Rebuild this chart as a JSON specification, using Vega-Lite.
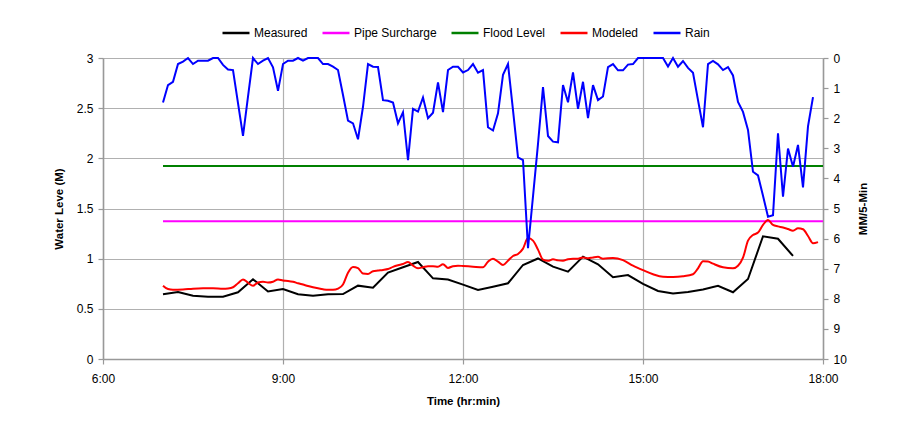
{
  "$schema": "https://vega.github.io/schema/vega-lite/v6.json",
  "width": 720,
  "height": 301,
  "autosize": {"type": "none"},
  "padding": {"left": 103, "top": 58, "right": 85, "bottom": 70},
  "background": "white",
  "encoding": {
    "x": {
      "field": "t",
      "type": "temporal",
      "scale": {
        "domain": [
          {"year": 1900, "month": 1, "date": 1, "hours": 6, "minutes": 0},
          {"year": 1900, "month": 1, "date": 1, "hours": 18, "minutes": 0}
        ],
        "nice": false
      },
      "axis": {
        "title": "Time (hr:min)",
        "format": "%-H:%M",
        "values": [
          {"year": 1900, "month": 1, "date": 1, "hours": 6},
          {"year": 1900, "month": 1, "date": 1, "hours": 9},
          {"year": 1900, "month": 1, "date": 1, "hours": 12},
          {"year": 1900, "month": 1, "date": 1, "hours": 15},
          {"year": 1900, "month": 1, "date": 1, "hours": 18}
        ],
        "grid": true,
        "labelPadding": 9,
        "titlePadding": 11,
        "labelFlush": false
      }
    }
  },
  "layer": [
    {
      "encoding": {
        "y": {
          "field": "v",
          "type": "quantitative",
          "scale": {"domain": [0, 3], "nice": false},
          "axis": {
            "title": "Water Leve (M)",
            "orient": "left",
            "values": [0, 0.5, 1, 1.5, 2, 2.5, 3],
            "format": "~g",
            "grid": true,
            "labelPadding": 5,
            "titlePadding": 12
          }
        }
      },
      "layer": [
        {
          "data": {
            "values": [
              {"t": "07:00", "v": 0.645}, {"t": "07:15", "v": 0.668}, {"t": "07:30", "v": 0.63}, {"t": "07:45", "v": 0.62},
              {"t": "08:00", "v": 0.62}, {"t": "08:15", "v": 0.665}, {"t": "08:30", "v": 0.795}, {"t": "08:45", "v": 0.673},
              {"t": "09:00", "v": 0.698}, {"t": "09:15", "v": 0.645}, {"t": "09:30", "v": 0.63}, {"t": "09:45", "v": 0.645},
              {"t": "10:00", "v": 0.647}, {"t": "10:15", "v": 0.731}, {"t": "10:30", "v": 0.71}, {"t": "10:45", "v": 0.862},
              {"t": "11:00", "v": 0.915}, {"t": "11:15", "v": 0.967}, {"t": "11:30", "v": 0.804}, {"t": "11:45", "v": 0.793},
              {"t": "12:00", "v": 0.741}, {"t": "12:15", "v": 0.688}, {"t": "12:30", "v": 0.72}, {"t": "12:45", "v": 0.755},
              {"t": "13:00", "v": 0.937}, {"t": "13:15", "v": 1.002}, {"t": "13:30", "v": 0.92}, {"t": "13:45", "v": 0.87},
              {"t": "14:00", "v": 1.02}, {"t": "14:15", "v": 0.944}, {"t": "14:30", "v": 0.815}, {"t": "14:45", "v": 0.836},
              {"t": "15:00", "v": 0.748}, {"t": "15:15", "v": 0.678}, {"t": "15:30", "v": 0.653}, {"t": "15:45", "v": 0.668},
              {"t": "16:00", "v": 0.692}, {"t": "16:15", "v": 0.73}, {"t": "16:30", "v": 0.665}, {"t": "16:45", "v": 0.797},
              {"t": "17:00", "v": 1.223}, {"t": "17:15", "v": 1.198}, {"t": "17:30", "v": 1.027}
            ],
            "format": {"parse": {"t": "date:'%H:%M'"}}
          },
          "mark": {"type": "line", "strokeWidth": 2},
          "encoding": {
            "color": {
              "datum": "Measured",
              "scale": {
                "domain": ["Measured", "Pipe Surcharge", "Flood Level", "Modeled", "Rain"],
                "range": ["#000000", "#ff00ff", "#008000", "#ff0000", "#0000ff"]
              },
              "legend": {
                "orient": "none",
                "legendX": 118,
                "legendY": -40,
                "direction": "horizontal",
                "title": null,
                "symbolType": "stroke",
                "symbolSize": 729,
                "symbolStrokeWidth": 2.5,
                "labelFontSize": 12,
                "labelFont": "Liberation Sans",
                "labelColor": "#000000",
                "labelOffset": 3,
                "columnPadding": 9,
                "padding": 0
              }
            }
          }
        },
        {
          "data": {
            "values": [{"t": "07:00", "v": 1.372}, {"t": "18:00", "v": 1.372}],
            "format": {"parse": {"t": "date:'%H:%M'"}}
          },
          "mark": {"type": "line", "strokeWidth": 2},
          "encoding": {"color": {"datum": "Pipe Surcharge"}}
        },
        {
          "data": {
            "values": [{"t": "07:00", "v": 1.924}, {"t": "18:00", "v": 1.924}],
            "format": {"parse": {"t": "date:'%H:%M'"}}
          },
          "mark": {"type": "line", "strokeWidth": 2},
          "encoding": {"color": {"datum": "Flood Level"}}
        },
        {
          "data": {
            "values": [
              {"t": "07:00", "v": 0.731}, {"t": "07:05", "v": 0.697}, {"t": "07:10", "v": 0.69}, {"t": "07:20", "v": 0.693},
              {"t": "07:30", "v": 0.7}, {"t": "07:40", "v": 0.704}, {"t": "07:50", "v": 0.705}, {"t": "08:00", "v": 0.7},
              {"t": "08:05", "v": 0.703}, {"t": "08:10", "v": 0.715}, {"t": "08:15", "v": 0.755}, {"t": "08:20", "v": 0.793},
              {"t": "08:25", "v": 0.76}, {"t": "08:30", "v": 0.73}, {"t": "08:35", "v": 0.762}, {"t": "08:40", "v": 0.77},
              {"t": "08:45", "v": 0.762}, {"t": "08:50", "v": 0.77}, {"t": "08:55", "v": 0.793}, {"t": "09:00", "v": 0.782},
              {"t": "09:05", "v": 0.778}, {"t": "09:10", "v": 0.77}, {"t": "09:15", "v": 0.755}, {"t": "09:20", "v": 0.742},
              {"t": "09:25", "v": 0.728}, {"t": "09:30", "v": 0.716}, {"t": "09:35", "v": 0.705}, {"t": "09:40", "v": 0.695},
              {"t": "09:45", "v": 0.689}, {"t": "09:50", "v": 0.69}, {"t": "09:55", "v": 0.702}, {"t": "10:00", "v": 0.742},
              {"t": "10:05", "v": 0.86}, {"t": "10:10", "v": 0.918}, {"t": "10:15", "v": 0.905}, {"t": "10:20", "v": 0.852},
              {"t": "10:25", "v": 0.848}, {"t": "10:30", "v": 0.875}, {"t": "10:35", "v": 0.882}, {"t": "10:40", "v": 0.888},
              {"t": "10:45", "v": 0.897}, {"t": "10:50", "v": 0.918}, {"t": "10:55", "v": 0.934}, {"t": "11:00", "v": 0.947},
              {"t": "11:05", "v": 0.966}, {"t": "11:10", "v": 0.93}, {"t": "11:15", "v": 0.905}, {"t": "11:20", "v": 0.915},
              {"t": "11:25", "v": 0.925}, {"t": "11:30", "v": 0.925}, {"t": "11:35", "v": 0.92}, {"t": "11:40", "v": 0.945},
              {"t": "11:45", "v": 0.908}, {"t": "11:50", "v": 0.925}, {"t": "11:55", "v": 0.93}, {"t": "12:00", "v": 0.927},
              {"t": "12:10", "v": 0.92}, {"t": "12:20", "v": 0.914}, {"t": "12:25", "v": 0.97}, {"t": "12:30", "v": 1.0},
              {"t": "12:35", "v": 0.97}, {"t": "12:40", "v": 0.937}, {"t": "12:45", "v": 0.98}, {"t": "12:50", "v": 1.027},
              {"t": "12:55", "v": 1.047}, {"t": "13:00", "v": 1.1}, {"t": "13:05", "v": 1.205}, {"t": "13:10", "v": 1.18},
              {"t": "13:15", "v": 1.09}, {"t": "13:20", "v": 0.99}, {"t": "13:25", "v": 0.978}, {"t": "13:30", "v": 0.994},
              {"t": "13:35", "v": 0.983}, {"t": "13:40", "v": 0.98}, {"t": "13:45", "v": 0.995}, {"t": "13:50", "v": 1.0},
              {"t": "13:55", "v": 1.0}, {"t": "14:00", "v": 1.012}, {"t": "14:05", "v": 1.004}, {"t": "14:10", "v": 1.012},
              {"t": "14:15", "v": 1.018}, {"t": "14:20", "v": 1.0}, {"t": "14:30", "v": 1.007}, {"t": "14:40", "v": 0.985},
              {"t": "14:50", "v": 0.93}, {"t": "15:00", "v": 0.885}, {"t": "15:10", "v": 0.845}, {"t": "15:20", "v": 0.82},
              {"t": "15:30", "v": 0.818}, {"t": "15:40", "v": 0.825}, {"t": "15:50", "v": 0.845}, {"t": "15:55", "v": 0.904},
              {"t": "16:00", "v": 0.975}, {"t": "16:05", "v": 0.972}, {"t": "16:10", "v": 0.95}, {"t": "16:20", "v": 0.914},
              {"t": "16:30", "v": 0.905}, {"t": "16:35", "v": 0.93}, {"t": "16:40", "v": 1.01}, {"t": "16:45", "v": 1.18},
              {"t": "16:50", "v": 1.236}, {"t": "16:55", "v": 1.26}, {"t": "17:00", "v": 1.336}, {"t": "17:05", "v": 1.386},
              {"t": "17:10", "v": 1.336}, {"t": "17:15", "v": 1.322}, {"t": "17:20", "v": 1.31}, {"t": "17:25", "v": 1.295},
              {"t": "17:30", "v": 1.279}, {"t": "17:35", "v": 1.303}, {"t": "17:40", "v": 1.293}, {"t": "17:45", "v": 1.226},
              {"t": "17:50", "v": 1.153}, {"t": "17:55", "v": 1.165}
            ],
            "format": {"parse": {"t": "date:'%H:%M'"}}
          },
          "mark": {"type": "line", "strokeWidth": 2, "interpolate": "monotone"},
          "encoding": {"color": {"datum": "Modeled"}}
        }
      ]
    },
    {
      "data": {
        "values": [
          {"t": "07:00", "v": 1.48}, {"t": "07:05", "v": 0.9}, {"t": "07:10", "v": 0.79}, {"t": "07:15", "v": 0.2},
          {"t": "07:20", "v": 0.12}, {"t": "07:25", "v": 0}, {"t": "07:30", "v": 0.2}, {"t": "07:35", "v": 0.09},
          {"t": "07:40", "v": 0.09}, {"t": "07:45", "v": 0.09}, {"t": "07:50", "v": 0}, {"t": "07:55", "v": 0},
          {"t": "08:00", "v": 0.23}, {"t": "08:05", "v": 0.38}, {"t": "08:10", "v": 0.4}, {"t": "08:15", "v": 1.5},
          {"t": "08:20", "v": 2.59}, {"t": "08:25", "v": 1.28}, {"t": "08:30", "v": 0}, {"t": "08:35", "v": 0.2},
          {"t": "08:40", "v": 0.09}, {"t": "08:45", "v": 0}, {"t": "08:50", "v": 0.31}, {"t": "08:55", "v": 1.09},
          {"t": "09:00", "v": 0.2}, {"t": "09:05", "v": 0.09}, {"t": "09:10", "v": 0.09}, {"t": "09:15", "v": 0},
          {"t": "09:20", "v": 0.09}, {"t": "09:25", "v": 0}, {"t": "09:30", "v": 0}, {"t": "09:35", "v": 0},
          {"t": "09:40", "v": 0.2}, {"t": "09:45", "v": 0.2}, {"t": "09:50", "v": 0.29}, {"t": "09:55", "v": 0.4},
          {"t": "10:00", "v": 1.23}, {"t": "10:05", "v": 2.08}, {"t": "10:10", "v": 2.17}, {"t": "10:15", "v": 2.7},
          {"t": "10:20", "v": 1.62}, {"t": "10:25", "v": 0.2}, {"t": "10:30", "v": 0.29}, {"t": "10:35", "v": 0.3},
          {"t": "10:40", "v": 1.4}, {"t": "10:45", "v": 1.42}, {"t": "10:50", "v": 1.48}, {"t": "10:55", "v": 2.17},
          {"t": "11:00", "v": 1.8}, {"t": "11:05", "v": 3.39}, {"t": "11:10", "v": 1.69}, {"t": "11:15", "v": 1.78},
          {"t": "11:20", "v": 1.31}, {"t": "11:25", "v": 2.0}, {"t": "11:30", "v": 1.82}, {"t": "11:35", "v": 0.81},
          {"t": "11:40", "v": 1.8}, {"t": "11:45", "v": 0.4}, {"t": "11:50", "v": 0.29}, {"t": "11:55", "v": 0.29},
          {"t": "12:00", "v": 0.48}, {"t": "12:05", "v": 0.4}, {"t": "12:10", "v": 0.2}, {"t": "12:15", "v": 0.49},
          {"t": "12:20", "v": 0.4}, {"t": "12:25", "v": 2.3}, {"t": "12:30", "v": 2.41}, {"t": "12:35", "v": 1.84},
          {"t": "12:40", "v": 0.56}, {"t": "12:45", "v": 0.2}, {"t": "12:50", "v": 1.73}, {"t": "12:55", "v": 3.3},
          {"t": "13:00", "v": 3.39}, {"t": "13:05", "v": 6.32}, {"t": "13:10", "v": 4.6}, {"t": "13:15", "v": 2.85},
          {"t": "13:20", "v": 0.97}, {"t": "13:25", "v": 2.59}, {"t": "13:30", "v": 2.78}, {"t": "13:35", "v": 2.8},
          {"t": "13:40", "v": 0.9}, {"t": "13:45", "v": 1.47}, {"t": "13:50", "v": 0.48}, {"t": "13:55", "v": 1.69},
          {"t": "14:00", "v": 0.79}, {"t": "14:05", "v": 2.0}, {"t": "14:10", "v": 0.9}, {"t": "14:15", "v": 1.4},
          {"t": "14:20", "v": 1.28}, {"t": "14:25", "v": 0.3}, {"t": "14:30", "v": 0.2}, {"t": "14:35", "v": 0.41},
          {"t": "14:40", "v": 0.41}, {"t": "14:45", "v": 0.22}, {"t": "14:50", "v": 0.2}, {"t": "14:55", "v": 0},
          {"t": "15:00", "v": 0}, {"t": "15:05", "v": 0}, {"t": "15:10", "v": 0}, {"t": "15:15", "v": 0},
          {"t": "15:20", "v": 0}, {"t": "15:25", "v": 0.28}, {"t": "15:30", "v": 0}, {"t": "15:35", "v": 0.29},
          {"t": "15:40", "v": 0.1}, {"t": "15:45", "v": 0.33}, {"t": "15:50", "v": 0.49}, {"t": "15:55", "v": 1.4},
          {"t": "16:00", "v": 2.3}, {"t": "16:05", "v": 0.2}, {"t": "16:10", "v": 0.1}, {"t": "16:15", "v": 0.21},
          {"t": "16:20", "v": 0.4}, {"t": "16:25", "v": 0.3}, {"t": "16:30", "v": 0.58}, {"t": "16:35", "v": 1.46},
          {"t": "16:40", "v": 1.79}, {"t": "16:45", "v": 2.39}, {"t": "16:50", "v": 3.78}, {"t": "16:55", "v": 3.9},
          {"t": "17:00", "v": 4.58}, {"t": "17:05", "v": 5.27}, {"t": "17:10", "v": 5.22}, {"t": "17:15", "v": 2.5},
          {"t": "17:20", "v": 4.61}, {"t": "17:25", "v": 3.01}, {"t": "17:30", "v": 3.61}, {"t": "17:35", "v": 2.89},
          {"t": "17:40", "v": 4.3}, {"t": "17:45", "v": 2.27}, {"t": "17:50", "v": 1.3}
        ],
        "format": {"parse": {"t": "date:'%H:%M'"}}
      },
      "mark": {"type": "line", "strokeWidth": 2},
      "encoding": {
        "y": {
          "field": "v",
          "type": "quantitative",
          "scale": {"domain": [0, 10], "reverse": true, "nice": false},
          "axis": {
            "title": "MM/5-Min",
            "orient": "right",
            "values": [0, 1, 2, 3, 4, 5, 6, 7, 8, 9, 10],
            "grid": false,
            "labelPadding": 5,
            "titlePadding": 22,
            "titleAngle": 270
          }
        },
        "color": {"datum": "Rain"}
      }
    }
  ],
  "resolve": {"scale": {"y": "independent"}},
  "config": {
    "font": "Liberation Sans",
    "view": {"stroke": null},
    "axis": {
      "labelFont": "Liberation Sans",
      "labelFontSize": 12,
      "labelColor": "#000000",
      "titleFont": "Liberation Sans",
      "titleFontSize": 11.5,
      "titleFontWeight": "bold",
      "titleColor": "#000000",
      "domainColor": "#999999",
      "domainWidth": 1.5,
      "tickColor": "#999999",
      "tickSize": 5,
      "tickWidth": 1.2,
      "gridColor": "#b0b0b0",
      "gridWidth": 1.2
    }
  }
}
